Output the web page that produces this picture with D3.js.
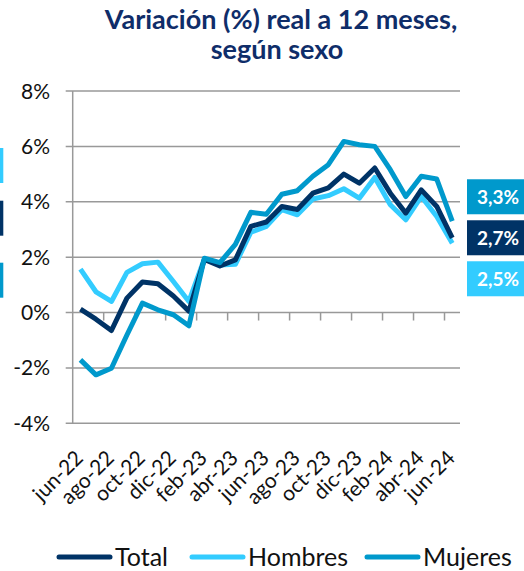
<!DOCTYPE html>
<html>
<head>
<meta charset="utf-8" />
<title>Variación real a 12 meses, según sexo</title>
<script src="https://cdn.jsdelivr.net/npm/d3@7"></script>
<style>
    body { margin: 0; background: #fff; }
    svg { font-family: Lato, "Open Sans", sans-serif; display: block; }
</style>
</head>
<body>
<div id="chart"></div>
<script>
    // months jun-22 .. jun-24
    var months = ["jun-22", "jul-22", "ago-22", "sep-22", "oct-22", "nov-22", "dic-22",
        "ene-23", "feb-23", "mar-23", "abr-23", "may-23", "jun-23", "jul-23", "ago-23",
        "sep-23", "oct-23", "nov-23", "dic-23", "ene-24", "feb-24", "mar-24", "abr-24",
        "may-24", "jun-24"];

    var total = [0.12, -0.24, -0.65, 0.52, 1.10, 1.04, 0.60, 0.05, 1.92, 1.68, 1.90, 3.11, 3.27,
        3.83, 3.72, 4.31, 4.50, 5.00, 4.67, 5.22, 4.31, 3.59, 4.43, 3.83, 2.70];
    var hombres = [1.57, 0.75, 0.40, 1.45, 1.76, 1.82, 1.12, 0.40, 1.94, 1.72, 1.74, 2.90, 3.11,
        3.72, 3.53, 4.10, 4.22, 4.47, 4.13, 4.88, 3.89, 3.35, 4.19, 3.47, 2.50];
    var mujeres = [-1.71, -2.25, -2.01, -0.81, 0.34, 0.10, -0.08, -0.48, 1.96, 1.80, 2.46, 3.62, 3.55,
        4.27, 4.40, 4.92, 5.34, 6.18, 6.06, 6.00, 5.16, 4.19, 4.92, 4.82, 3.30];

    var yTicks = [-4, -2, 0, 2, 4, 6, 8];
    var endLabels = ["3,3%", "2,7%", "2,5%"];   // Mujeres, Total, Hombres

    var series = [
        { name: "Total", values: total, color: "#003366" },
        { name: "Hombres", values: hombres, color: "#33ccff" },
        { name: "Mujeres", values: mujeres, color: "#0099cc" }
    ];

    var width = 524, height = 571;
    var plotLeft = 72.7, plotRight = 460, plotTop = 91, plotBottom = 423.3;

    var svg = d3.select("#chart").append("svg")
        .attr("width", width)
        .attr("height", height);

    var x = d3.scalePoint()
        .domain(months)
        .range([plotLeft, plotRight])
        .padding(0.5);
    var step = x.step();

    var y = d3.scaleLinear()
        .domain([-4, 8])
        .range([plotBottom, plotTop]);

    // title
    var title = svg.append("text")
        .attr("text-anchor", "middle")
        .attr("fill", "#0f2d69")
        .style("font-weight", "bold")
        .style("font-size", "27px");
    title.append("tspan").attr("x", 281).attr("y", 29).text("Variación (%) real a 12 meses,");
    title.append("tspan").attr("x", 277).attr("y", 59).text("según sexo");

    // gridlines
    svg.append("g")
        .selectAll("line")
        .data(yTicks)
        .enter()
        .append("line")
        .attr("x1", plotLeft - 7)
        .attr("x2", plotRight)
        .attr("y1", function (d) { return y(d); })
        .attr("y2", function (d) { return y(d); })
        .attr("stroke", "#999")
        .attr("stroke-width", 1.5);

    // y axis line + labels
    svg.append("line")
        .attr("x1", plotLeft).attr("x2", plotLeft)
        .attr("y1", plotTop).attr("y2", plotBottom)
        .attr("stroke", "#999")
        .attr("stroke-width", 1.5);

    svg.append("g")
        .selectAll("text")
        .data(yTicks)
        .enter()
        .append("text")
        .attr("x", 50)
        .attr("y", function (d) { return y(d); })
        .attr("dy", "0.36em")
        .attr("text-anchor", "end")
        .style("font-size", "21px")
        .attr("fill", "#111")
        .text(function (d) { return d + "%"; });

    // x tick marks on the 0 line, every 2 months
    var tickIdx = d3.range(2, months.length, 2);
    svg.append("g")
        .selectAll("line")
        .data(tickIdx)
        .enter()
        .append("line")
        .attr("x1", function (i) { return x(months[i]) - step / 2; })
        .attr("x2", function (i) { return x(months[i]) - step / 2; })
        .attr("y1", y(0))
        .attr("y2", y(0) + 8)
        .attr("stroke", "#999")
        .attr("stroke-width", 1.5);

    // x labels
    svg.append("g")
        .selectAll("text")
        .data(months.filter(function (d, i) { return i % 2 === 0; }))
        .enter()
        .append("text")
        .attr("transform", function (d) {
            return "translate(" + (x(d) + 4) + "," + (plotBottom + 36) + ") rotate(-45)";
        })
        .attr("text-anchor", "end")
        .style("font-size", "21px")
        .attr("fill", "#111")
        .text(function (d) { return d; });

    // lines
    var line = d3.line()
        .x(function (d, i) { return x(months[i]); })
        .y(function (d) { return y(d); });

    var drawOrder = [series[1], series[0], series[2]];
    svg.append("g")
        .selectAll("path")
        .data(drawOrder)
        .enter()
        .append("path")
        .attr("d", function (d) { return line(d.values); })
        .attr("fill", "none")
        .attr("stroke", function (d) { return d.color; })
        .attr("stroke-width", 5)
        .attr("stroke-linejoin", "round");

    // end label boxes
    var boxColors = [series[2].color, series[0].color, series[1].color];
    var mid = y(total[total.length - 1]);
    var box = svg.append("g")
        .selectAll("g")
        .data(endLabels)
        .enter()
        .append("g")
        .attr("transform", function (d, i) { return "translate(467," + (mid + (i - 1) * 41 - 17.5) + ")"; });
    box.append("rect")
        .attr("width", 60)
        .attr("height", 35)
        .attr("fill", function (d, i) { return boxColors[i]; });
    box.append("text")
        .attr("x", 31)
        .attr("y", 17.5)
        .attr("dy", "0.36em")
        .attr("text-anchor", "middle")
        .attr("fill", "#fff")
        .style("font-weight", "bold")
        .style("font-size", "19px")
        .text(function (d) { return d; });

    // cut-off boxes at the left edge
    var leftColors = [series[1].color, series[0].color, series[2].color];
    var leftTops = [148, 200.7, 262.7];
    svg.append("g")
        .selectAll("rect")
        .data(leftColors)
        .enter()
        .append("rect")
        .attr("x", 0)
        .attr("y", function (d, i) { return leftTops[i]; })
        .attr("width", 3.3)
        .attr("height", 35)
        .attr("fill", function (d) { return d; });

    // legend
    var legendX = [57, 190, 365];
    var lg = svg.append("g")
        .selectAll("g")
        .data(series)
        .enter()
        .append("g")
        .attr("transform", function (d, i) { return "translate(" + legendX[i] + ",557)"; });
    lg.append("line")
        .attr("x1", 2).attr("x2", 53)
        .attr("stroke", function (d) { return d.color; })
        .attr("stroke-width", 5)
        .attr("stroke-linecap", "round");
    lg.append("text")
        .attr("x", 58)
        .attr("dy", "0.36em")
        .style("font-size", "25px")
        .attr("fill", "#111")
        .text(function (d) { return d.name; });
</script>
</body>
</html>
